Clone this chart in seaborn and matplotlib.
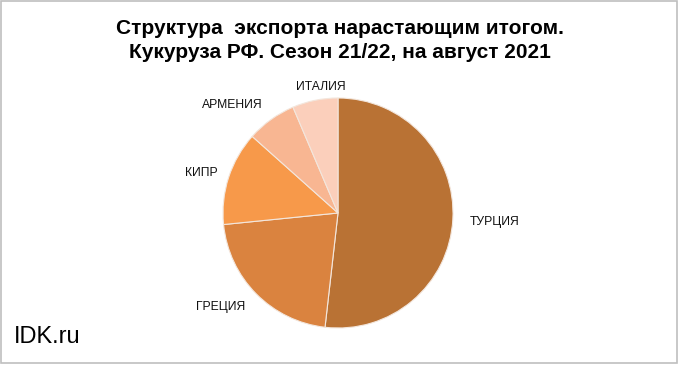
import numpy as np
import seaborn as sns
import matplotlib.pyplot as plt

# Данные: структура экспорта кукурузы РФ, сезон 21/22 (доли, %)
countries = ['ТУРЦИЯ', 'ГРЕЦИЯ', 'КИПР', 'АРМЕНИЯ', 'ИТАЛИЯ']
shares = [51.8, 21.6, 13.2, 7.0, 6.4]
colors = ['#B97234', '#DA833F', '#F7994A', '#F8B692', '#FBCFBB']
# положение подписей: расстояние (в радиусах) и сдвиг угла от середины сектора
label_dist = [1.36, 1.305, 1.24, 1.31, 1.105]
label_shift = [0.0, -6.0, 1.9, 8.8, -3.9]

sns.set_theme(style='white')
plt.rcParams['font.family'] = ['Liberation Sans', 'DejaVu Sans']

fig = plt.figure(figsize=(6.8, 3.67), dpi=100)
fig.patch.set_facecolor('white')

# круг: центр ~ (338, 213) px, радиус ~115 px
lim = 1.3
size_px = 2 * lim * 115
cx, cy = 338, 367 - 213
ax = fig.add_axes([(cx - size_px / 2) / 680, (cy - size_px / 2) / 367,
                   size_px / 680, size_px / 367])

wedges, _ = ax.pie(shares, colors=colors, startangle=90, counterclock=False,
                   wedgeprops=dict(edgecolor='#F3E6DC', linewidth=0.8))
ax.set_xlim(-lim, lim)
ax.set_ylim(-lim, lim)
ax.set_aspect('equal')
ax.axis('off')

# подписи категорий снаружи
for w, name, d, s in zip(wedges, countries, label_dist, label_shift):
    ang = np.deg2rad((w.theta1 + w.theta2) / 2 + s)
    ax.text(d * np.cos(ang), d * np.sin(ang), name, ha='center', va='center',
            fontsize=8.7, color='#111111')

fig.text(0.5, 1 - 34 / 367, 'Структура  экспорта нарастающим итогом.',
         ha='center', va='baseline', fontsize=15, fontweight='bold', color='black')
fig.text(0.5, 1 - 58 / 367, 'Кукуруза РФ. Сезон 21/22, на август 2021',
         ha='center', va='baseline', fontsize=15, fontweight='bold', color='black')

fig.text(0.02, 0.083, 'IDK.ru', ha='left', va='center', fontsize=17, color='black')

# рамка вокруг диаграммы
fig.add_artist(plt.Rectangle((0.002, 0.012), 0.994, 0.984, transform=fig.transFigure,
                             fill=False, edgecolor='#BFBFBF', linewidth=1.2))

fig.savefig('out.png', dpi=100)
